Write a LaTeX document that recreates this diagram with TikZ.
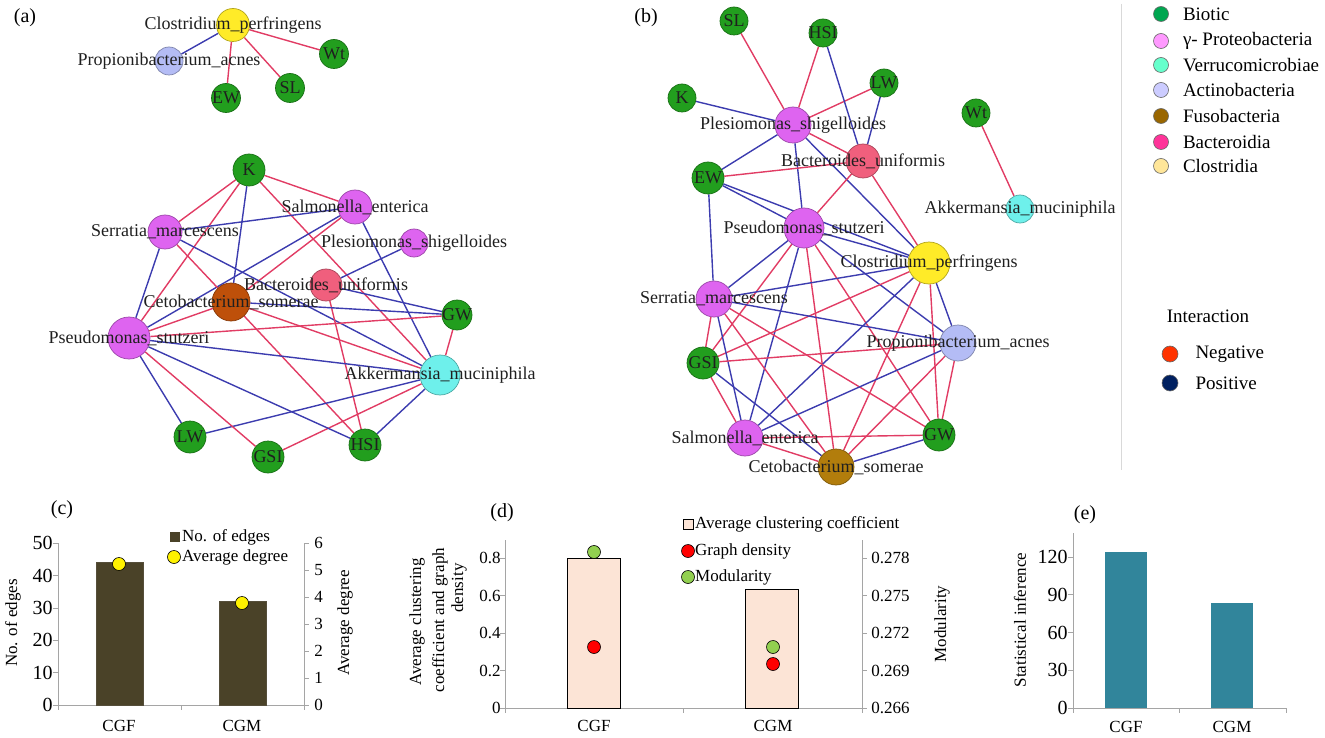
\documentclass[tikz,border=0pt]{standalone}
\usepackage{fontspec}
\setmainfont{Liberation Serif}
\usetikzlibrary{positioning}
\pgfdeclarelayer{bg}
\pgfsetlayers{bg,main}

\definecolor{biot}{RGB}{34,158,30}
\definecolor{gammap}{RGB}{222,100,240}
\definecolor{verru}{RGB}{110,240,235}
\definecolor{actino}{RGB}{180,188,245}
\definecolor{fusoA}{RGB}{190,80,10}
\definecolor{fusoB}{RGB}{178,125,12}
\definecolor{bactd}{RGB}{240,95,125}
\definecolor{clos}{RGB}{255,235,40}
\definecolor{negc}{RGB}{225,60,100}
\definecolor{posc}{RGB}{60,60,175}
\definecolor{lgbiot}{RGB}{0,166,80}
\definecolor{lggamma}{RGB}{255,153,255}
\definecolor{lgverru}{RGB}{102,255,204}
\definecolor{lgactino}{RGB}{204,204,255}
\definecolor{lgfuso}{RGB}{153,102,0}
\definecolor{lgbact}{RGB}{255,51,153}
\definecolor{lgclos}{RGB}{255,230,153}
\definecolor{lgneg}{RGB}{255,51,0}
\definecolor{lgpos}{RGB}{0,32,96}
\definecolor{barC}{RGB}{74,66,40}
\definecolor{barD}{RGB}{252,228,214}
\definecolor{barE}{RGB}{49,133,155}
\definecolor{modg}{RGB}{146,208,80}
\definecolor{axisg}{RGB}{165,165,165}

\begin{document}
\begin{tikzpicture}[x=1pt, y=-1pt,
    sp/.style 2 args={circle, draw=#1!70!black, fill=#1, line width=0.7pt, minimum size=#2, inner sep=0pt},
    lbl/.style={font=\fontsize{18}{20}\selectfont, text=black!88, inner sep=0pt},
    negl/.style={draw=negc, line width=1.4pt},
    posl/.style={draw=posc, line width=1.4pt},
    panel/.style={font=\fontsize{20}{22}\selectfont},
    lgdot/.style={circle, draw=black!60, fill=#1, line width=0.6pt, minimum size=15pt, inner sep=0pt},
    lgtxt/.style={font=\fontsize{19}{21}\selectfont, inner sep=0pt},
    ctxt/.style={font=\fontsize{17}{19}\selectfont, inner sep=1pt},
    tnum/.style={font=\fontsize{20}{22}\selectfont, inner sep=1pt},
    axisline/.style={draw=axisg, line width=0.8pt},
    mdot/.style={circle, draw=black, fill=#1, line width=0.6pt, minimum size=13pt, inner sep=0pt}]

    \useasboundingbox (0,0) rectangle (1325,738);

    % ---------- (a) ----------
    \node[panel] (pa) at (25,18) {(a)};
    \node[sp={clos}{33pt}, label={[lbl]center:Clostridium\_perfringens}] (aClos) at (233,25) {};
    \node[sp={actino}{28pt}, label={[lbl]center:Propionibacterium\_acnes}] (aProp) at (169,61) {};
    \node[sp={biot}{29pt}, label={[lbl]center:Wt}] (aWt) at (334,54) {};
    \node[sp={biot}{29pt}, label={[lbl]center:SL}] (aSL) at (290,88) {};
    \node[sp={biot}{29pt}, label={[lbl]center:EW}] (aEW) at (226,98) {};

    \node[sp={biot}{32pt}, label={[lbl]center:K}] (aK) at (249,170) {};
    \node[sp={gammap}{34pt}, label={[lbl]center:Salmonella\_enterica}] (aSalm) at (355,207) {};
    \node[sp={gammap}{34pt}, label={[lbl]center:Serratia\_marcescens}] (aSerr) at (165,232) {};
    \node[sp={gammap}{28pt}, label={[lbl]center:Plesiomonas\_shigelloides}] (aPles) at (414,243) {};
    \node[sp={bactd}{32pt}, label={[lbl]center:Bacteroides\_uniformis}] (aBact) at (326,285) {};
    \node[sp={fusoA}{38pt}, label={[lbl]center:Cetobacterium\_somerae}] (aCeto) at (231,302) {};
    \node[sp={biot}{30pt}, label={[lbl]center:GW}] (aGW) at (457,315) {};
    \node[sp={gammap}{42pt}, label={[lbl]center:Pseudomonas\_stutzeri}] (aPseu) at (129,338) {};
    \node[sp={verru}{40pt}, label={[lbl]center:Akkermansia\_muciniphila}] (aAkk) at (440,375) {};
    \node[sp={biot}{32pt}, label={[lbl]center:LW}] (aLW) at (190,437) {};
    \node[sp={biot}{32pt}, label={[lbl]center:GSI}] (aGSI) at (268,457) {};
    \node[sp={biot}{32pt}, label={[lbl]center:HSI}] (aHSI) at (365,445) {};

    \begin{pgfonlayer}{bg}
        \path (aClos) edge[posl] (aProp) edge[negl] (aWt) edge[negl] (aSL) edge[negl] (aEW);
        \path (aK) edge[negl] (aSerr) edge[negl] (aSalm) edge[posl] (aCeto) edge[negl] (aAkk) edge[negl] (aPseu);
        \path (aSalm) edge[posl] (aSerr) edge[posl] (aPseu) edge[negl] (aCeto) edge[posl] (aAkk);
        \path (aSerr) edge[posl] (aPseu) edge[posl] (aAkk) edge[negl] (aCeto);
        \path (aPles) edge[posl] (aBact);
        \path (aBact) edge[posl] (aGW) edge[negl] (aHSI);
        \path (aCeto) edge[posl] (aGW) edge[negl] (aAkk) edge[negl] (aHSI) edge[negl] (aPseu);
        \path (aGW) edge[negl] (aPseu) edge[negl] (aAkk);
        \path (aAkk) edge[posl] (aLW) edge[negl] (aGSI) edge[posl] (aHSI) edge[posl] (aPseu);
        \path (aPseu) edge[posl] (aLW) edge[negl] (aGSI) edge[posl] (aHSI);
    \end{pgfonlayer}

    % ---------- (b) ----------
    \node[panel] (pb) at (646,18) {(b)};
    \node[sp={biot}{28pt}, label={[lbl]center:SL}] (bSL) at (734,21) {};
    \node[sp={biot}{28pt}, label={[lbl]center:HSI}] (bHSI) at (823,33) {};
    \node[sp={biot}{28pt}, label={[lbl]center:LW}] (bLW) at (884,83) {};
    \node[sp={biot}{28pt}, label={[lbl]center:K}] (bK) at (682,98) {};
    \node[sp={biot}{28pt}, label={[lbl]center:Wt}] (bWt) at (976,113) {};
    \node[sp={gammap}{36pt}, label={[lbl]center:Plesiomonas\_shigelloides}] (bPles) at (793,125) {};
    \node[sp={bactd}{34pt}, label={[lbl]center:Bacteroides\_uniformis}] (bBact) at (863,161) {};
    \node[sp={biot}{32pt}, label={[lbl]center:EW}] (bEW) at (708,178) {};
    \node[sp={verru}{28pt}, label={[lbl]center:Akkermansia\_muciniphila}] (bAkk) at (1020,209) {};
    \node[sp={gammap}{40pt}, label={[lbl]center:Pseudomonas\_stutzeri}] (bPseu) at (804,228) {};
    \node[sp={clos}{42pt}, label={[lbl]center:Clostridium\_perfringens}] (bClos) at (929,263) {};
    \node[sp={gammap}{36pt}, label={[lbl]center:Serratia\_marcescens}] (bSerr) at (714,299) {};
    \node[sp={actino}{36pt}, label={[lbl]center:Propionibacterium\_acnes}] (bProp) at (958,343) {};
    \node[sp={biot}{32pt}, label={[lbl]center:GSI}] (bGSI) at (703,363) {};
    \node[sp={gammap}{36pt}, label={[lbl]center:Salmonella\_enterica}] (bSalm) at (745,438) {};
    \node[sp={biot}{32pt}, label={[lbl]center:GW}] (bGW) at (939,435) {};
    \node[sp={fusoB}{36pt}, label={[lbl]center:Cetobacterium\_somerae}] (bCeto) at (836,467) {};

    \begin{pgfonlayer}{bg}
        \path (bPles) edge[negl] (bSL) edge[negl] (bHSI) edge[negl] (bLW) edge[posl] (bK) edge[posl] (bEW)
            edge[negl] (bBact) edge[posl] (bPseu) edge[posl] (bClos);
        \path (bBact) edge[posl] (bHSI) edge[posl] (bLW) edge[negl] (bEW) edge[negl] (bPseu) edge[negl] (bClos);
        \path (bWt) edge[negl] (bAkk);
        \path (bEW) edge[posl] (bPseu) edge[posl] (bClos) edge[posl] (bSerr);
        \path (bPseu) edge[posl] (bSerr) edge[negl] (bGSI) edge[posl] (bSalm) edge[negl] (bCeto)
            edge[negl] (bGW) edge[posl] (bProp) edge[posl] (bClos);
        \path (bClos) edge[posl] (bSerr) edge[negl] (bGSI) edge[posl] (bSalm) edge[negl] (bCeto)
            edge[negl] (bGW) edge[posl] (bProp);
        \path (bSerr) edge[posl] (bProp) edge[negl] (bGSI) edge[posl] (bSalm) edge[negl] (bCeto) edge[negl] (bGW);
        \path (bGSI) edge[negl] (bProp) edge[negl] (bSalm) edge[posl] (bCeto);
        \path (bProp) edge[posl] (bSalm) edge[negl] (bCeto) edge[negl] (bGW);
        \path (bSalm) edge[negl] (bGW) edge[negl] (bCeto);
        \path (bGW) edge[posl] (bCeto);
    \end{pgfonlayer}

    % ---------- legend ----------
    \draw[black!15, line width=1pt] (1121,4) -- (1121,470);
    \node[lgdot=lgbiot] (lBiot) at (1161,14) {};
    \node[lgdot=lggamma] (lGamma) at (1161,41) {};
    \node[lgdot=lgverru] (lVerru) at (1161,65) {};
    \node[lgdot=lgactino] (lActino) at (1161,90) {};
    \node[lgdot=lgfuso] (lFuso) at (1161,116) {};
    \node[lgdot=lgbact] (lBact) at (1161,142) {};
    \node[lgdot=lgclos] (lClos) at (1161,166) {};
    \node[lgtxt, right=14pt of lBiot] {Biotic};
    \node[lgtxt, right=14pt of lGamma] {γ- Proteobacteria};
    \node[lgtxt, right=14pt of lVerru] {Verrucomicrobiae};
    \node[lgtxt, right=14pt of lActino] {Actinobacteria};
    \node[lgtxt, right=14pt of lFuso] {Fusobacteria};
    \node[lgtxt, right=14pt of lBact] {Bacteroidia};
    \node[lgtxt, right=14pt of lClos] {Clostridia};

    \node[lgtxt] (lInter) at (1208,316) {Interaction};
    \node[lgdot=lgneg, minimum size=16pt] (lNeg) at (1170,354) {};
    \node[lgdot=lgpos, minimum size=16pt] (lPos) at (1170,383) {};
    \node[lgtxt, right=17pt of lNeg] {Negative};
    \node[lgtxt, right=17pt of lPos] {Positive};

    % ---------- (c) ----------
    \node[panel] (pc) at (62,510) {(c)};
    \draw[axisline] (58,543) -- (58,705) -- (304,705) -- (304,543);
    \foreach \v in {0,...,5}
        \draw[axisline] (53,705-\v*32.35) -- (58,705-\v*32.35)
            node[tnum, anchor=east, xshift=-4pt] {\the\numexpr\v*10\relax};
    \foreach \v in {0,...,6}
        \draw[axisline] (304,705-\v*26.95) -- (309,705-\v*26.95)
            node[ctxt, anchor=west, xshift=4pt] {\v};
    \foreach \x in {58,181,304}
        \draw[axisline] (\x,705) -- (\x,710);
    \draw[barC!80!gray, fill=barC] (96,705) rectangle (143,562);
    \draw[barC!80!gray, fill=barC] (219,705) rectangle (266,601);
    \node[mdot=yellow] (cF) at (119,564) {};
    \node[mdot=yellow] (cM) at (242,603) {};
    \fill[barC] (170,532) rectangle (180,542);
    \node[ctxt, anchor=west] at (181,537) {No. of edges};
    \node[mdot=yellow] (cLeg) at (174,557) {};
    \node[ctxt, anchor=west] at (181,557) {Average degree};
    \node[ctxt, rotate=90] at (13,623) {No. of edges};
    \node[ctxt, rotate=90] at (345,623) {Average degree};
    \node[ctxt] at (119,726) {CGF};
    \node[ctxt] at (242,726) {CGM};

    % ---------- (d) ----------
    \node[panel] (pd) at (502,513) {(d)};
    \draw[axisline] (505,540) -- (505,708) -- (862,708) -- (862,540);
    \foreach \v/\l/\r in {0/0/0.266, 1/0.2/0.269, 2/0.4/0.272, 3/0.6/0.275, 4/0.8/0.278} {
        \draw[axisline] (500,708-\v*37.5) -- (505,708-\v*37.5)
            node[ctxt, anchor=east, xshift=-3pt] {\l};
        \draw[axisline] (862,708-\v*37.5) -- (867,708-\v*37.5)
            node[ctxt, anchor=west, xshift=3pt] {\r};
    }
    \foreach \x in {505,683,862}
        \draw[axisline] (\x,708) -- (\x,713);
    \draw[black, fill=barD, line width=0.8pt] (567,708) rectangle (620,558);
    \draw[black, fill=barD, line width=0.8pt] (745,708) rectangle (798,589);
    \node[mdot=red] (dFr) at (594,647) {};
    \node[mdot=modg] (dFg) at (594,552) {};
    \node[mdot=modg] (dMg) at (773,647) {};
    \node[mdot=red] (dMr) at (773,664) {};
    \draw[black, fill=barD, line width=0.7pt] (683,519) rectangle (693,529);
    \node[ctxt, anchor=west] at (694,524) {Average clustering coefficient};
    \node[mdot=red] (dLr) at (688,551) {};
    \node[ctxt, anchor=west] at (694,551) {Graph density};
    \node[mdot=modg] (dLg) at (688,577) {};
    \node[ctxt, anchor=west] at (694,577) {Modularity};
    \node[ctxt, rotate=90] at (417,622) {Average clustering};
    \node[ctxt, rotate=90] at (440,620) {coefficient and graph};
    \node[ctxt, rotate=90] at (459,588) {density};
    \node[ctxt, rotate=90] at (942,624) {Modularity};
    \node[ctxt] at (594,726) {CGF};
    \node[ctxt] at (773,726) {CGM};

    % ---------- (e) ----------
    \node[panel] (pe) at (1085,515) {(e)};
    \draw[axisline] (1073,533) -- (1073,708) -- (1286,708);
    \foreach \v in {0,...,4}
        \draw[axisline] (1068,708-\v*37.75) -- (1073,708-\v*37.75)
            node[tnum, anchor=east, xshift=-4pt] {\the\numexpr\v*30\relax};
    \foreach \x in {1073,1179,1286}
        \draw[axisline] (\x,708) -- (\x,713);
    \fill[barE] (1105,708) rectangle (1147,552);
    \fill[barE] (1211,708) rectangle (1253,603);
    \node[ctxt, rotate=90] at (1020,620) {Statistical inference};
    \node[ctxt] at (1126,727) {CGF};
    \node[ctxt] at (1232,727) {CGM};
\end{tikzpicture}
\end{document}
